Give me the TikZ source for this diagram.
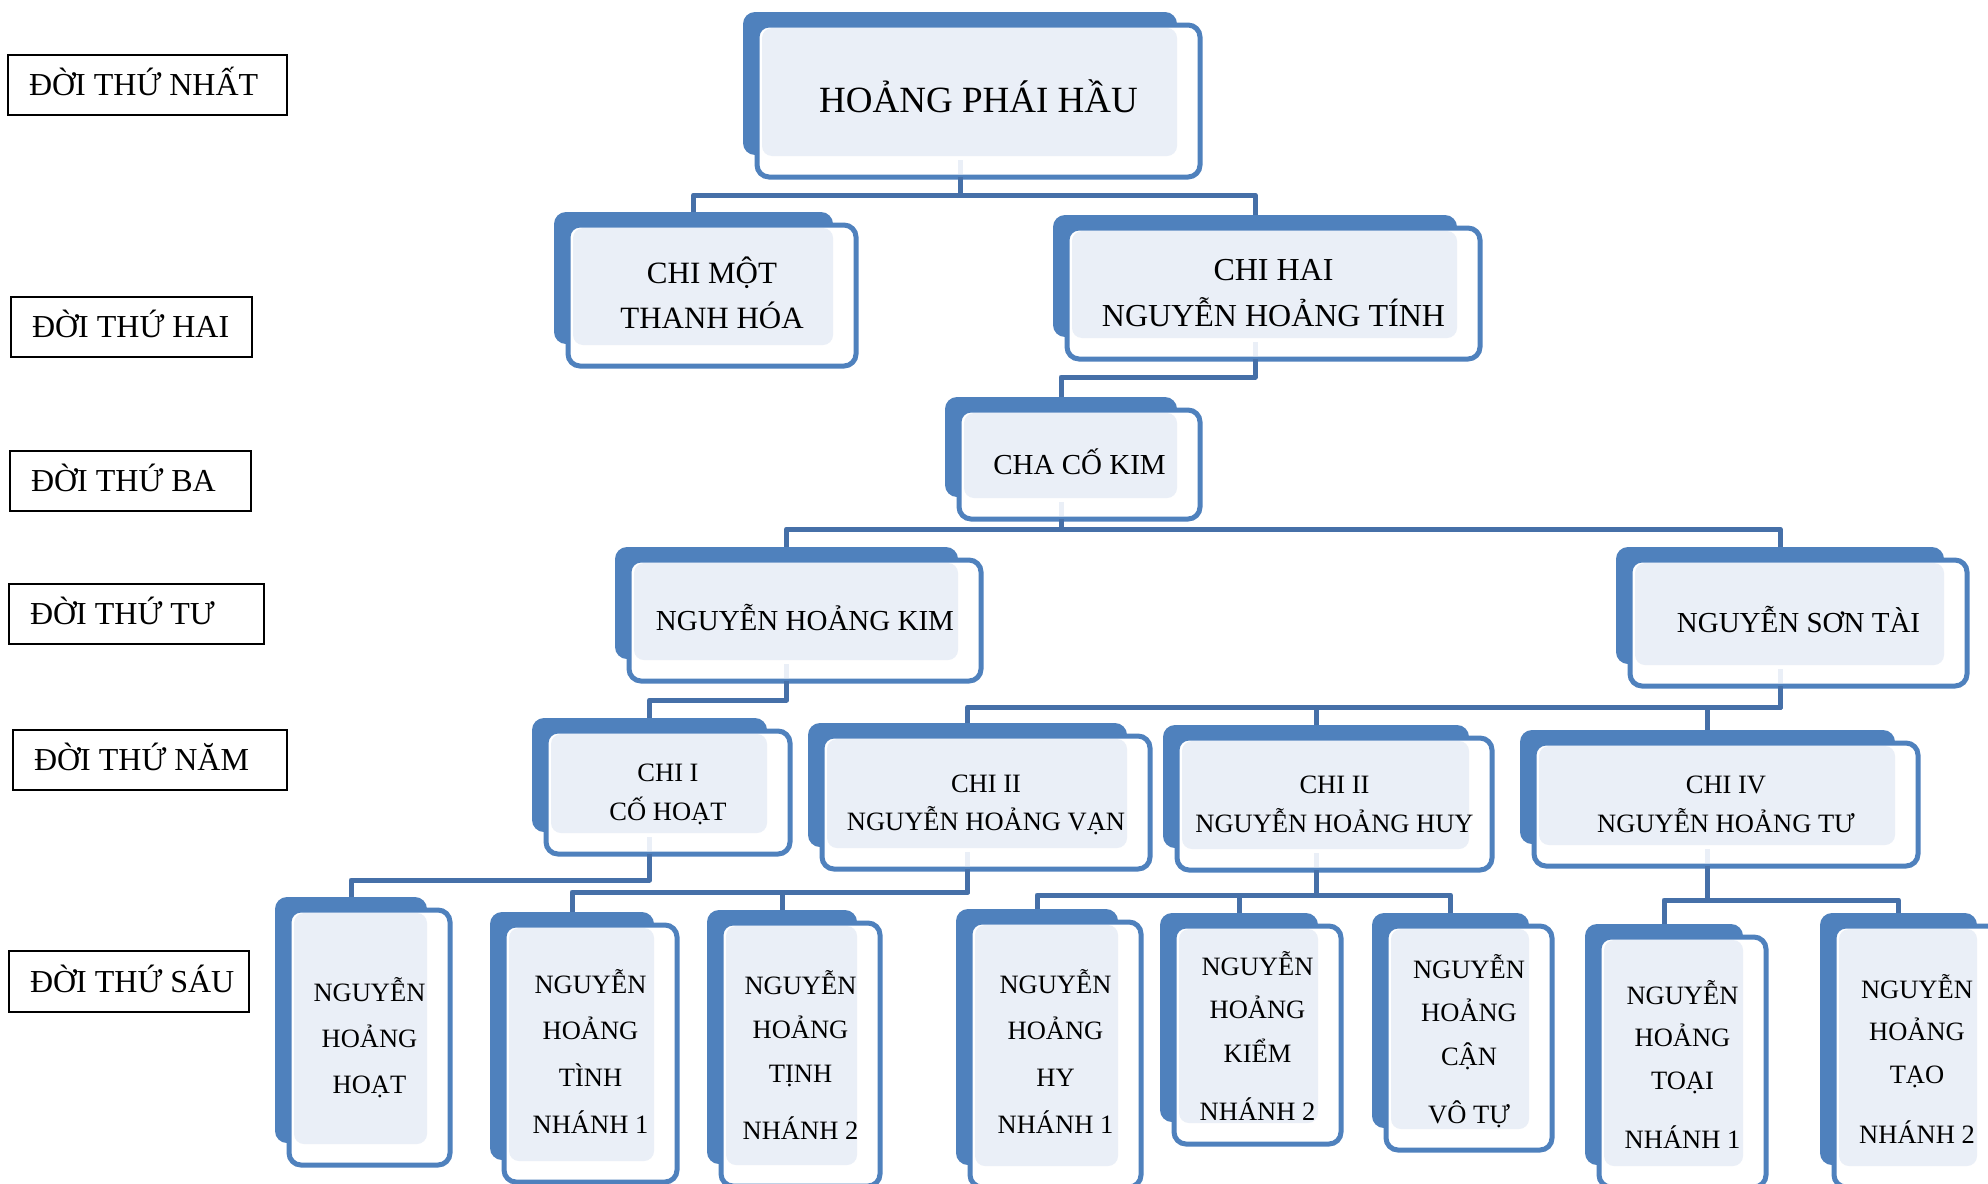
\documentclass[tikz,border=0pt]{standalone}
\usepackage{fontspec}
\setmainfont{Liberation Serif}
\usetikzlibrary{calc}
\definecolor{boxblue}{RGB}{79,129,189}
\definecolor{lightfill}{RGB}{234,239,247}
\definecolor{connc}{RGB}{70,112,168}
\tikzset{
  backbox/.style={rectangle, rounded corners=12pt, fill=boxblue, inner sep=0pt, outer sep=0pt},
  outerbox/.style={draw=boxblue, line width=5pt, fill=white, rounded corners=12pt},
  innerbox/.style={fill=lightfill, rounded corners=10pt},
  stubfill/.style={fill=lightfill},
  boxtext/.style={anchor=north, inner sep=0pt, outer sep=0pt, align=center, text=black},
  conn/.style={draw=connc, line width=5pt, line join=round},
  lbl/.style={rectangle, draw=black, line width=1.5pt, inner sep=0pt, outer sep=0pt},
  lbltext/.style={anchor=base west, inner sep=0pt, outer sep=0pt, font=\fontsize{32pt}{40pt}\selectfont}
}
\newcommand\famnode[5]{%
  \pgfmathsetmacro\fnW{#4-#2}%
  \pgfmathsetmacro\fnH{#5-#3}%
  \pgfmathsetmacro\fnX{(#2+#4)/2}%
  \pgfmathsetmacro\fnY{(#3+#5)/2}%
  \node[backbox, minimum width=\fnW pt, minimum height=\fnH pt] (#1) at (\fnX,\fnY) {};
  \draw[outerbox] (#2+14,#3+13) rectangle (#4+23,#5+22);
  \fill[innerbox] (#2+19,#3+16) rectangle (#4,#5+1);
  \coordinate (#1-b) at (\fnX,#5+22);
}
\newcommand\famtext[6]{%
  \node[boxtext, font=\fontsize{#4pt}{#5pt}\selectfont] (#1) at (#2,#3-0.7*#5) {#6};
}
\newcommand\genlabel[6]{%
  \pgfmathsetmacro\fnW{#4-#2}%
  \pgfmathsetmacro\fnH{#5-#3}%
  \pgfmathsetmacro\fnX{(#2+#4)/2}%
  \pgfmathsetmacro\fnY{(#3+#5)/2}%
  \node[lbl, minimum width=\fnW pt, minimum height=\fnH pt] (#1) at (\fnX,\fnY) {};
  \node[lbltext] (#1-t) at (#2+21,\fnY+10.6) {#6};
}
\begin{document}
\begin{tikzpicture}[x=1pt,y=-1pt]
\useasboundingbox (0,0) rectangle (1988,1183);
\fill[white] (0,0) rectangle (1988,1183);
\clip (0,0) rectangle (1988,1183);

% generation labels
\genlabel{g1}{8}{55}{287}{115}{ĐỜI THỨ NHẤT}
\genlabel{g2}{11}{297}{252}{357}{ĐỜI THỨ HAI}
\genlabel{g3}{10}{451}{251}{511}{ĐỜI THỨ BA}
\genlabel{g4}{9}{584}{264}{644}{ĐỜI THỨ TƯ}
\genlabel{g5}{13}{730}{287}{790}{ĐỜI THỨ NĂM}
\genlabel{g6}{9}{951}{249}{1012}{ĐỜI THỨ SÁU}

% family boxes
\famnode{hau}{743}{12}{1177}{155}
\famnode{mot}{554}{212}{833}{344}
\famnode{hai}{1053}{215}{1457}{337}
\famnode{cck}{945}{397}{1177}{497}
\famnode{nhk}{615}{547}{958}{659}
\famnode{nst}{1616}{547}{1944}{664}
\famnode{chi1}{532}{718}{767}{832}
\famnode{van}{808}{723}{1127}{847}
\famnode{huy}{1163}{725}{1469}{848}
\famnode{tu}{1520}{730}{1895}{844}
\famnode{hoat}{275}{897}{427}{1143}
\famnode{tinha}{490}{912}{654}{1160}
\famnode{tinhb}{707}{910}{857}{1164}
\famnode{hy}{956}{909}{1118}{1165}
\famnode{kiem}{1160}{913}{1318}{1122}
\famnode{can}{1372}{913}{1529}{1128}
\famnode{toai}{1585}{924}{1743}{1165}
\famnode{tao}{1820}{913}{1977}{1165}

% light stubs under parents
\foreach \p in {hau,hai,cck,nhk,nst,chi1,van,huy,tu}{
  \fill[stubfill] ($(\p.south)+(-2.5,5)$) rectangle ($(\p.south)+(2.5,19)$);
}

% texts
\famtext{hau-t}{978.5}{112}{37}{55}{\strut HOẢNG PHÁI HẦU}
\famtext{mot-t}{712}{283}{31}{45}{\strut CHI MỘT\\\strut THANH HÓA}
\famtext{hai-t}{1273.5}{280}{32}{46}{\strut CHI HAI\\\strut NGUYỄN HOẢNG TÍNH}
\famtext{cck-t}{1079.5}{474}{29}{43}{\strut CHA CỐ KIM}
\famtext{nhk-t}{805}{630}{29}{43}{\strut NGUYỄN HOẢNG KIM}
\famtext{nst-t}{1798.5}{632}{29}{43}{\strut NGUYỄN SƠN TÀI}
\famtext{chi1-t}{668}{781}{26.5}{39}{\strut CHI I\\\strut CỐ HOẠT}
\famtext{van-t}{986}{792}{26.5}{38}{\strut CHI II\\\strut NGUYỄN HOẢNG VẠN}
\famtext{huy-t}{1334.5}{793}{26.5}{39}{\strut CHI II\\\strut NGUYỄN HOẢNG HUY}
\famtext{tu-t}{1726}{793}{26.5}{39}{\strut CHI IV\\\strut NGUYỄN HOẢNG TƯ}
\famtext{hoat-t}{369.5}{1001}{26.5}{46}{\strut NGUYỄN\\\strut HOẢNG\\\strut HOẠT}
\famtext{tinha-t}{590.5}{993}{26.5}{46.7}{\strut NGUYỄN\\\strut HOẢNG\\\strut TÌNH\\\strut NHÁNH 1}
\famtext{tinhb-t}{800.5}{994}{26.5}{44}{\strut NGUYỄN\\\strut HOẢNG\\\strut TỊNH\\[13pt]\strut NHÁNH 2}
\famtext{hy-t}{1055.5}{993}{26.5}{46.7}{\strut NGUYỄN\\\strut HOẢNG\\\strut HY\\\strut NHÁNH 1}
\famtext{kiem-t}{1257.5}{975}{26.5}{43.5}{\strut NGUYỄN\\\strut HOẢNG\\\strut KIỂM\\[14.5pt]\strut NHÁNH 2}
\famtext{can-t}{1469}{978}{26.5}{43.5}{\strut NGUYỄN\\\strut HOẢNG\\\strut CẬN\\[14.5pt]\strut VÔ TỰ}
\famtext{toai-t}{1682.5}{1004}{26.5}{42.5}{\strut NGUYỄN\\\strut HOẢNG\\\strut TOẠI\\[16.5pt]\strut NHÁNH 1}
\famtext{tao-t}{1917}{998}{26.5}{42.5}{\strut NGUYỄN\\\strut HOẢNG\\\strut TẠO\\[17.5pt]\strut NHÁNH 2}

% connector levels
\coordinate (m1) at (0,195);
\coordinate (m2) at (0,377);
\coordinate (m3) at (0,529);
\coordinate (m4) at (0,700);
\coordinate (m5) at (0,707);
\coordinate (m6) at (0,880);
\coordinate (m7) at (0,892);
\coordinate (m8) at (0,895);
\coordinate (m9) at (0,900);

% connectors
\draw[conn] (hau-b) -- (hau-b |- m1) -| (mot.north);
\draw[conn] (hau-b) -- (hau-b |- m1) -| (hai.north);
\draw[conn] (hai-b) -- (hai-b |- m2) -| (cck.north);
\draw[conn] (cck-b) -- (cck-b |- m3) -| (nhk.north);
\draw[conn] (cck-b) -- (cck-b |- m3) -| (nst.north);
\draw[conn] (nhk-b) -- (nhk-b |- m4) -| (chi1.north);
\draw[conn] (nst-b) -- (nst-b |- m5) -| (van.north);
\draw[conn] (nst-b) -- (nst-b |- m5) -| (huy.north);
\draw[conn] (nst-b) -- (nst-b |- m5) -| (tu.north);
\draw[conn] (chi1-b) -- (chi1-b |- m6) -| (hoat.north);
\draw[conn] (van-b) -- (van-b |- m7) -| (tinha.north);
\draw[conn] (van-b) -- (van-b |- m7) -| (tinhb.north);
\draw[conn] (huy-b) -- (huy-b |- m8) -| (hy.north);
\draw[conn] (huy-b) -- (huy-b |- m8) -| (kiem.north);
\draw[conn] (huy-b) -- (huy-b |- m8) -| (can.north);
\draw[conn] (tu-b) -- (tu-b |- m9) -| (toai.north);
\draw[conn] (tu-b) -- (tu-b |- m9) -| (tao.north);
\end{tikzpicture}
\end{document}
